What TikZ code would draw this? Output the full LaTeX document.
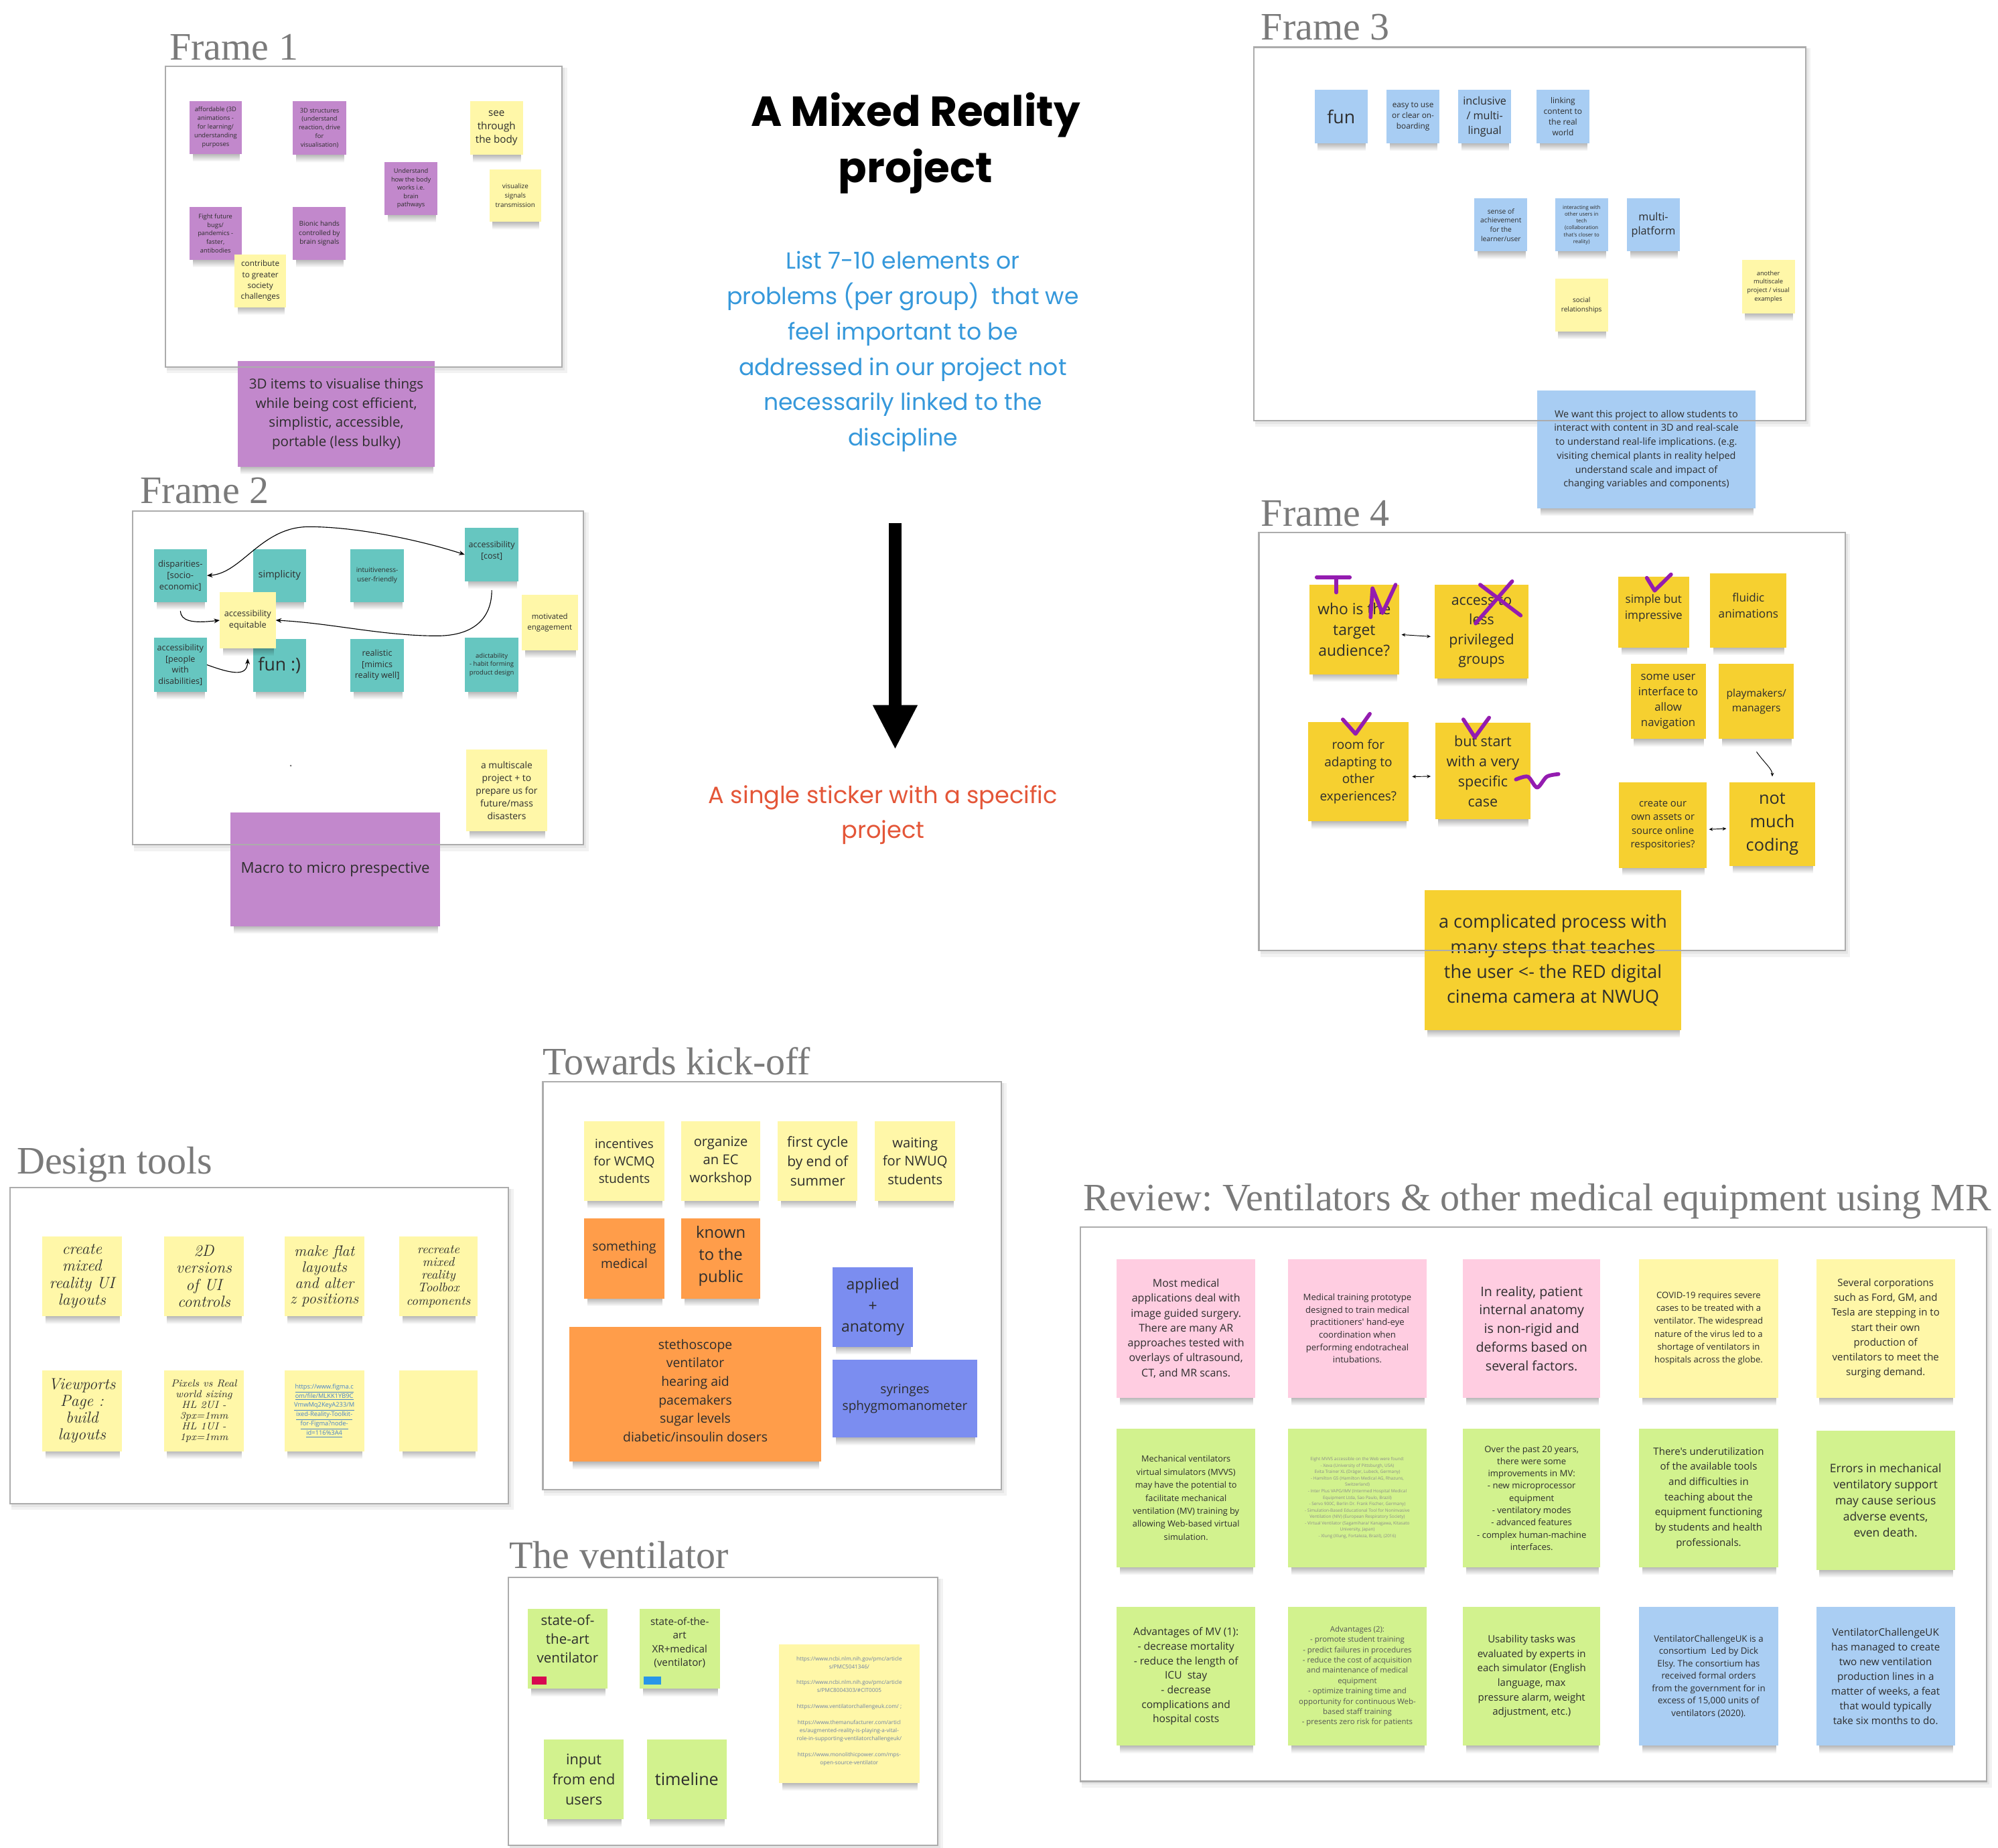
\documentclass[tikz,border=0pt]{standalone}
\usepackage{fontspec}
\newfontfamily\os{Open Sans}
\newfontfamily\pop{Poppins}
\newfontfamily\lab{Liberation Serif}
\usetikzlibrary{arrows.meta,fadings}
\definecolor{purp}{RGB}{194,136,204}
\definecolor{lyel}{RGB}{255,247,168}
\definecolor{tealc}{RGB}{102,198,192}
\definecolor{lblu}{RGB}{168,205,243}
\definecolor{rblu}{RGB}{170,206,243}
\definecolor{gold}{RGB}{246,208,48}
\definecolor{orng}{RGB}{255,157,74}
\definecolor{viol}{RGB}{123,141,240}
\definecolor{gren}{RGB}{210,242,142}
\definecolor{pinkc}{RGB}{255,205,225}
\definecolor{txt}{RGB}{45,45,45}
\definecolor{lblgray}{RGB}{122,122,122}
\definecolor{frm}{RGB}{172,172,172}
\definecolor{bluetxt}{RGB}{53,152,219}
\definecolor{redtxt}{RGB}{228,86,56}
\definecolor{penc}{RGB}{148,28,176}
\definecolor{linkb}{RGB}{70,130,200}
\definecolor{linkg}{RGB}{110,130,165}
\definecolor{tagr}{RGB}{215,10,80}
\definecolor{tagb}{RGB}{40,150,232}
\newcommand\fsz[2]{\fontsize{#1pt}{#2pt}\selectfont}
\newcommand\hw{\rmfamily\itshape}
\tikzset{
 stick/.style={anchor=north west, inner sep=0pt, outer sep=0pt},
 stext/.style={align=center, inner sep=0pt, text=txt},
 os/.style 2 args={font=\os\fsz{#1}{#2}},
 hand/.style 2 args={font=\hw\fsz{#1}{#2}},
 lbl/.style={anchor=base west, inner sep=0pt, text=lblgray, font=\lab\fsz{30.5}{36}},
 frameline/.style={draw=frm, line width=1.2pt},
 conn/.style={line width=0.6pt, black, >={Stealth[length=4.5pt,width=3.6pt]}},
 sconn/.style={line width=0.5pt, black, >={Stealth[length=3pt,width=2.6pt]}},
 pen/.style={draw=penc, line width=3pt, line cap=round, line join=round},
}
% [dy]{name}{x1}{y1}{x2}{y2}{fill}{text options}{text}
\newcommand\sticker[9][0]{%
  \fill[black,opacity=.32,path fading=south] (#3+2.5,#6-1) rectangle (#5-1.5,#6+6);
  \node[stick,fill=#7,minimum width={(#5-#3)*1pt},minimum height={(#6-#4)*1pt}] (#2) at (#3,#4) {};
  \node[stext,#8] (#2t) at ([yshift=#1pt]#2.center) {#9};}
\newcommand\frameback[4]{%
  \fill[black,opacity=.05] (#1+1,#2+1) rectangle (#3+4,#4+5);
  \fill[black,opacity=.05] (#1+1,#2+1) rectangle (#3+2,#4+2.5);
  \fill[white] (#1,#2) rectangle (#3,#4);}
\newcommand\frameline[4]{\draw[frameline] (#1,#2) rectangle (#3,#4);}
\begin{document}
\frenchspacing
\begin{tikzpicture}[x={(1pt,0pt)},y={(0pt,-1pt)}]
\useasboundingbox (0,0) rectangle (1568,1450);
\fill[white] (0,0) rectangle (1568,1450);
% ---------- frame backgrounds
\frameback{130}{52}{441}{288}
\frameback{104}{401}{458}{663}
\frameback{984}{37}{1417}{330}
\frameback{988}{418}{1448}{746}
\frameback{8}{932}{399}{1180}
\frameback{426}{849}{786}{1169}
\frameback{399}{1238}{736}{1448}
\frameback{848}{963}{1559}{1398}
% ---------- Frame 1
\sticker{f1a}{148.7}{79.2}{189.7}{120.9}{purp}{os={4.9}{6.8}}{affordable (3D\\animations -\\for learning/\\understanding\\purposes}
\sticker{f1b}{229.9}{79.6}{271.6}{121.5}{purp}{os={4.9}{6.8}}{3D structures\\(understand\\reaction, drive\\for\\visualisation)}
\sticker{f1c}{368.8}{79.6}{410.5}{121.5}{lyel}{os={8}{10.6}}{see\\through\\the body}
\sticker{f1d}{301.6}{127.2}{343.5}{168.6}{purp}{os={4.9}{6.6}}{Understand\\how the body\\works i.e.\\brain\\pathways}
\sticker{f1e}{384}{132.9}{424.8}{174.1}{lyel}{os={5.2}{7.3}}{visualize\\signals\\transmission}
\sticker{f1f}{148.7}{162.5}{189.5}{203.8}{purp}{os={4.9}{6.6}}{Fight future\\bugs/\\pandemics -\\faster,\\antibodies}
\sticker{f1g}{229.9}{162.5}{271.4}{203.8}{purp}{os={5.3}{7.3}}{Bionic hands\\controlled by\\brain signals}
\sticker{f1h}{183.9}{199.7}{224.7}{241.1}{lyel}{os={6.2}{8.6}}{contribute\\to greater\\society\\challenges}
\sticker{f1i}{186.4}{283.5}{341.4}{366.2}{purp}{os={10.8}{15}}{3D items to visualise things\\while being cost efficient,\\simplistic, accessible,\\portable (less bulky)}
% ---------- Frame 2
\sticker{f2a}{120.7}{430.8}{162.4}{472.5}{tealc}{os={6.8}{9}}{disparities-\\{[}socio-\\economic{]}}
\sticker{f2b}{198.5}{430.8}{240.2}{472.5}{tealc}{os={7.6}{9}}{simplicity}
\sticker{f2c}{274.8}{430.8}{317.2}{472.5}{tealc}{os={5.3}{7.3}}{intuitiveness-\\user-friendly}
\sticker[3]{f2d}{364.7}{414.4}{407.1}{456.1}{tealc}{os={6.6}{8.7}}{accessibility\\{[}cost{]}}
\sticker{f2g}{120.7}{500.6}{162.4}{542.8}{tealc}{os={6.6}{8.7}}{accessibility\\{[}people\\with\\disabilities{]}}
\sticker{f2h}{198.5}{501.3}{240.2}{542.8}{tealc}{os={14}{16}}{fun :)}
\sticker{f2i}{274.8}{501.3}{317.2}{542.8}{tealc}{os={6.6}{8.7}}{realistic\\{[}mimics\\reality well{]}}
\sticker{f2j}{364.7}{500.6}{407.1}{542.8}{tealc}{os={5}{6.6}}{adictability\\- habit forming\\product design}
\sticker{f2e}{172.4}{464.7}{216.4}{508.8}{lyel}{os={6.7}{8.9}}{accessibility\\equitable}
\sticker{f2f}{409.4}{466.6}{453.4}{510.4}{lyel}{os={6}{8.4}}{motivated\\engagement}
\sticker{f2k}{365.8}{588.4}{429.5}{652.4}{lyel}{os={7.3}{10}}{a multiscale\\project + to\\prepare us for\\future/mass\\disasters}
\sticker{f2l}{180.9}{637.6}{345.4}{726.7}{purp}{os={11.7}{15}}{Macro to micro prespective}
\fill[black!60] (228.2,600.9) circle (0.7);
% ---------- Frame 3
\sticker{f3a}{1031.6}{70.6}{1073.3}{112.5}{lblu}{os={14}{16}}{fun}
\sticker{f3b}{1088.2}{70.6}{1129.6}{112.5}{lblu}{os={6.2}{8.5}}{easy to use\\or clear on-\\boarding}
\sticker{f3c}{1144.3}{70.6}{1186}{112.5}{lblu}{os={8.5}{11.6}}{inclusive\\/ multi-\\lingual}
\sticker{f3d}{1205.7}{70.6}{1247.4}{112.5}{lblu}{os={6.3}{8.5}}{linking\\content to\\the real\\world}
\sticker{f3e}{1157}{155.7}{1198.7}{197.3}{lblu}{os={5.4}{7.2}}{sense of\\achievement\\for the\\learner/user}
\sticker{f3f}{1220.3}{155.7}{1262}{197.3}{lblu}{os={4.1}{5.4}}{interacting with\\other users in\\tech\\(collaboration\\that's closer to\\reality)}
\sticker{f3g}{1276.7}{155.7}{1318.4}{197.3}{lblu}{os={8.5}{11}}{multi-\\platform}
\sticker{f3h}{1220.3}{218.8}{1262}{260.2}{lyel}{os={5.3}{7.5}}{social\\relationships}
\sticker{f3i}{1367}{203.8}{1408.5}{246}{lyel}{os={4.9}{6.7}}{another\\multiscale\\project / visual\\examples}
\sticker{f3j}{1206.5}{306.7}{1377.5}{399}{lblu}{os={7.6}{10.9}}{We want this project to allow students to\\interact with content in 3D and real-scale\\to understand real-life implications. (e.g.\\visiting chemical plants in reality helped\\understand scale and impact of\\changing variables and components)}
% ---------- Frame 4
\sticker{f4a}{1027.6}{458.7}{1097.9}{529.1}{gold}{os={12}{16.3}}{who is the\\target\\audience?}
\sticker{f4b}{1125.7}{458.9}{1199.7}{532.6}{gold}{os={11.2}{15.4}}{access to\\less\\privileged\\groups}
\sticker[3]{f4c}{1269.8}{452.7}{1325.6}{508.2}{gold}{os={9}{12.5}}{simple but\\impressive}
\sticker[4]{f4d}{1342.2}{450}{1402}{508.2}{gold}{os={9}{12.5}}{fluidic\\animations}
\sticker{f4e}{1279.7}{521}{1338.6}{580}{gold}{os={8.8}{12.2}}{some user\\interface to\\allow\\navigation}
\sticker{f4f}{1348.9}{521}{1407.8}{580}{gold}{os={8.2}{11.4}}{playmakers/\\managers}
\sticker{f4g}{1026.7}{566.5}{1105.2}{644.5}{gold}{os={10}{13.5}}{room for\\adapting to\\other\\experiences?}
\sticker{f4h}{1126.3}{567.3}{1201.2}{643.1}{gold}{os={11.3}{15.7}}{but start\\with a very\\specific\\case}
\sticker{f4i}{1270.7}{613.9}{1339.2}{681}{gold}{os={7.8}{10.8}}{create our\\own assets or\\source online\\respositories?}
\sticker{f4j}{1357.3}{613.9}{1424.4}{679.4}{gold}{os={13.3}{18.2}}{not\\much\\coding}
\sticker{f4k}{1117.9}{698.7}{1319.6}{808.4}{gold}{os={14.2}{19.5}}{a complicated process with\\many steps that teaches\\the user <- the RED digital\\cinema camera at NWUQ}
% ---------- Design tools
\sticker{d1}{33}{970.2}{95.6}{1033}{lyel}{hand={12.6}{13.2}}{create\\mixed\\reality UI\\layouts}
\sticker{d2}{128.6}{970.2}{191.5}{1033}{lyel}{hand={12.6}{13.2}}{2D\\versions\\of UI\\controls}
\sticker{d3}{223.2}{970.2}{285.8}{1033}{lyel}{hand={12}{12.5}}{make flat\\layouts\\and alter\\z positions}
\sticker{d4}{313.4}{970.2}{374.7}{1033}{lyel}{hand={10}{10.1}}{recreate\\mixed\\reality\\Toolbox\\components}
\sticker{d5}{33}{1075.5}{95.6}{1138.8}{lyel}{hand={12.6}{13.2}}{Viewports\\Page :\\build\\layouts}
\sticker{d6}{128.6}{1075.5}{191.5}{1138.8}{lyel}{hand={8}{8.4}}{Pixels vs Real\\world sizing\\HL 2UI -\\3px=1mm\\HL 1UI -\\1px=1mm}
\sticker{d7}{223.2}{1075.5}{285.8}{1138.8}{lyel}{os={4.9}{7.3},text=linkb}{\underline{https://www.figma.c}\\\underline{om/file/MLKK1YB9C}\\\underline{VmwMq2KeyA233/M}\\\underline{ixed-Reality-Toolkit-}\\\underline{for-Figma?node-}\\\underline{id=116\%3A4}}
\sticker{d8}{313.4}{1075.5}{374.7}{1138.8}{lyel}{os={8}{10}}{}
% ---------- Towards kick-off
\sticker{k1}{458.4}{880.1}{521.4}{942.4}{lyel}{os={9.9}{13.8}}{incentives\\for WCMQ\\students}
\sticker{k2}{534.5}{880.1}{596.8}{942.4}{lyel}{os={10.6}{14.3}}{organize\\an EC\\workshop}
\sticker{k3}{610.4}{880.1}{673}{942.4}{lyel}{os={11}{15.2}}{first cycle\\by end of\\summer}
\sticker{k4}{686.5}{880.1}{749.8}{942.4}{lyel}{os={10.6}{14.3}}{waiting\\for NWUQ\\students}
\sticker[3]{k5}{458.4}{956.3}{521.4}{1019}{orng}{os={10.1}{13.5}}{something\\medical}
\sticker[2]{k6}{534.5}{956.3}{596.8}{1019}{orng}{os={12.5}{17.3}}{known\\to the\\public}
\sticker{k7}{653.4}{994.3}{716.5}{1057.1}{viol}{os={12}{16.6}}{applied\\+\\anatomy}
\sticker[3]{k8}{446.9}{1041.4}{644.4}{1147.1}{orng}{os={10.2}{14.5}}{stethoscope\\ventilator\\hearing aid\\pacemakers\\sugar levels\\diabetic/insoulin dosers}
\sticker{k9}{653.4}{1067}{766.9}{1128.2}{viol}{os={10}{13.4}}{syringes\\sphygmomanometer}
% ---------- The ventilator
\sticker[8]{v1}{414.1}{1262.7}{476.8}{1325.3}{gren}{os={10.8}{14.8}}{state-of-\\the-art\\ventilator}
\sticker[5]{v2}{502}{1262.7}{564.8}{1325.3}{gren}{os={8}{10.8}}{state-of-the-\\art\\XR+medical\\(ventilator)}
\fill[tagr] (417.4,1315.8) rectangle (429.1,1321.9);
\fill[tagb] (504.9,1315.8) rectangle (518.7,1321.9);
\sticker{v3}{426.9}{1365}{489.4}{1427.7}{gren}{os={11.4}{15.7}}{input\\from end\\users}
\sticker{v4}{507.6}{1365}{570.3}{1427.7}{gren}{os={13.2}{15}}{timeline}
\sticker[2]{v5}{611.3}{1290.5}{721.6}{1399.3}{lyel}{os={4.3}{6.3},text=linkg}{https://www.ncbi.nlm.nih.gov/pmc/article\\s/PMC5041346/\\~\\https://www.ncbi.nlm.nih.gov/pmc/article\\s/PMC8004303/\#CIT0005\\~\\https://www.ventilatorchallengeuk.com/ ;\\~\\https://www.themanufacturer.com/articl\\es/augmented-reality-is-playing-a-vital-\\role-in-supporting-ventilatorchallengeuk/\\~\\https://www.monolithicpower.com/mps-\\open-source-ventilator}
% ---------- Review
\sticker{r11}{876.5}{988}{985}{1097}{pinkc}{os={8.4}{11.7}}{Most medical\\applications deal with\\image guided surgery.\\There are many AR\\approaches tested with\\overlays of ultrasound,\\CT, and MR scans.}
\sticker{r12}{1011}{988}{1119.4}{1097}{pinkc}{os={6.9}{9.8}}{Medical training prototype\\designed to train medical\\practitioners' hand-eye\\coordination when\\performing endotracheal\\intubations.}
\sticker{r13}{1148}{988}{1256}{1097}{pinkc}{os={10.3}{14.6}}{In reality, patient\\internal anatomy\\is non-rigid and\\deforms based on\\several factors.}
\sticker{r14}{1286.4}{988}{1395.4}{1097}{lyel}{os={6.9}{10.1}}{COVID-19 requires severe\\cases to be treated with a\\ventilator. The widespread\\nature of the virus led to a\\shortage of ventilators in\\hospitals across the globe.}
\sticker{r15}{1425.3}{988}{1534.3}{1097}{lyel}{os={7.9}{11.7}}{Several corporations\\such as Ford, GM, and\\Tesla are stepping in to\\start their own\\production of\\ventilators to meet the\\surging demand.}
\sticker{r21}{876.5}{1121}{985}{1230}{gren}{os={6.7}{10.2}}{Mechanical ventilators\\virtual simulators (MVVS)\\may have the potential to\\facilitate mechanical\\ventilation (MV) training by\\allowing Web-based virtual\\simulation.}
\sticker{r22}{1011}{1121}{1119.4}{1230}{gren}{os={3.4}{5},text=txt!55}{Eight MVVS accessible on the Web were found:\\- Xeva (University of Pittsburgh, USA)\\Evita Trainer XL (Dräger, Lubeck, Germany)\\- Hamilton G5 (Hamilton Medical AG, Rhazuns,\\Switzerland)\\- Inter Plus VAPG/IMV (Intermed Hospital Medical\\Equipment Ltda, Sao Paulo, Brazil)\\- Servo 900C, Berlin Dr. Frank Fischer, Germany)\\- Simulation-Based Educational Tool for Noninvasive\\Ventilation (NIV) (European Respiratory Society)\\- Virtual Ventilator (Sagamihara/ Kanagawa, Kitasato\\University, Japan)\\- Xlung (Xlung, Fortaleza, Brazil), (2016)}
\sticker{r23}{1148}{1121}{1256}{1230}{gren}{os={6.9}{9.6}}{Over the past 20 years,\\there were some\\improvements in MV:\\- new microprocessor\\equipment\\- ventilatory modes\\- advanced features\\- complex human-machine\\interfaces.}
\sticker{r24}{1286.4}{1121}{1395.4}{1230}{gren}{os={7.9}{11.9}}{There's underutilization\\of the available tools\\and difficulties in\\teaching about the\\equipment functioning\\by students and health\\professionals.}
\sticker{r25}{1425.3}{1123}{1534.3}{1232}{gren}{os={9.2}{12.6}}{Errors in mechanical\\ventilatory support\\may cause serious\\adverse events,\\even death.}
\sticker{r31}{876.5}{1261}{985}{1370}{gren}{os={8.2}{11.4}}{Advantages of MV (1):\\- decrease mortality\\- reduce the length of\\ICU\ \ stay\\- decrease\\complications and\\hospital costs}
\sticker{r32}{1011}{1261}{1119.4}{1370}{gren}{os={6}{8.1},text=txt!80}{Advantages (2):\\- promote student training\\- predict failures in procedures\\- reduce the cost of acquisition\\and maintenance of medical\\equipment\\- optimize training time and\\opportunity for continuous Web-\\based staff training\\- presents zero risk for patients}
\sticker{r33}{1148}{1261}{1256}{1370}{gren}{os={7.9}{11.4}}{Usability tasks was\\evaluated by experts in\\each simulator (English\\language, max\\pressure alarm, weight\\adjustment, etc.)}
\sticker{r34}{1286.4}{1261}{1395.4}{1370}{rblu}{os={7}{9.7}}{VentilatorChallengeUK is a\\consortium\ \ Led by Dick\\Elsy. The consortium has\\received formal orders\\from the government for in\\excess of 15,000 units of\\ventilators (2020).}
\sticker{r35}{1425.3}{1261}{1534.3}{1370}{rblu}{os={8}{11.6}}{VentilatorChallengeUK\\has managed to create\\two new ventilation\\production lines in a\\matter of weeks, a feat\\that would typically\\take six months to do.}
% ---------- frame borders (on top)
\frameline{130}{52}{441}{288}
\frameline{104}{401}{458}{663}
\frameline{984}{37}{1417}{330}
\frameline{988}{418}{1448}{746}
\frameline{8}{932}{399}{1180}
\frameline{426}{849}{786}{1169}
\frameline{399}{1238}{736}{1448}
\frameline{848}{963}{1559}{1398}
% ---------- Frame 2 connectors
\draw[conn,<->] (f2a.east) .. controls (190,450) and (205,413) .. (243,413.4) .. controls (280,413.4) and (330,424) .. (f2d.west);
\draw[conn,->] ([yshift=-7pt]f2a.south) .. controls (142,487) and (150,489.5) .. (f2e.west);
\draw[conn,->] (f2g.east) .. controls (185,530) and (194,530) .. ([yshift=-8pt]f2e.south);
\draw[conn,->] ([yshift=-7pt]f2d.south) .. controls (386,485) and (372,499) .. (343,499) .. controls (300,499) and (260,489) .. (f2e.east);
% ---------- Frame 4 connectors
\draw[sconn,<->,shorten <=2pt,shorten >=3pt] ([yshift=-4pt]f4a.east) -- ([yshift=-4pt]f4b.west);
\draw[sconn,<->,shorten <=3pt,shorten >=3.5pt] ([yshift=-4pt]f4g.east) -- ([yshift=-4pt]f4h.west);
\draw[sconn,<->,shorten <=2pt,shorten >=2.5pt] ([yshift=-3.5pt]f4i.east) -- ([yshift=-3.5pt]f4j.west);
\coordinate (c4) at (1378.5,590);
\draw[sconn,->,shorten >=4.5pt] (c4) to[out=-55,in=90] (f4j.north);
% ---------- purple pen marks
\draw[pen] (1033.3,453) -- (1059.3,453);
\draw[pen] (1048.7,453) -- (1048.7,464.9);
\draw[pen] (1075.6,484.4) -- (1077.1,461.7) -- (1084.9,481.1) -- (1095.2,458.9);
\draw[pen] (1161.6,458.9) -- (1193.4,483);
\draw[pen] (1186.7,456.2) -- (1158,489.2);
\draw[pen] (1053.8,564.6) -- (1063.8,575.9) -- (1075,560.2);
\draw[pen] (1148.4,564.6) -- (1157.4,578.6) -- (1168.6,563.2);
\draw[pen] (1292.4,453.5) -- (1298.5,463.5) -- (1311.4,450.8);
\draw[pen] plot[smooth] coordinates {(1189.7,611.7) (1199,609.5) (1206.3,618) (1213.9,609.5) (1223,607.5)};
% ---------- centre texts
\node[anchor=base, inner sep=0pt, align=center, font=\pop\bfseries\fsz{33}{44}] (title) at (718.5,143.2) {A Mixed Reality\\project};
\node[anchor=base, inner sep=0pt, align=center, text=bluetxt, font=\pop\fsz{18.2}{27.8}] (task) at (708.5,350) {List 7-10 elements or\\problems (per group)\ \ that we\\feel important to be\\addressed in our project not\\necessarily linked to the\\discipline};
\node[anchor=base, inner sep=0pt, align=center, text=redtxt, font=\pop\fsz{18.5}{27.4}] (goal) at (693,657.8) {A single sticker with a specific\\project};
\coordinate (atop) at (702.5,410.6);
\coordinate (ahead) at (702.5,555);
\coordinate (ahl) at (684.8,553.3);
\coordinate (ahr) at (720.2,553.3);
\coordinate (atip) at (702.5,587.4);
\draw[line width=10pt] (atop) -- (ahead);
\fill (ahl) -- (ahr) -- (atip) -- cycle;
% ---------- frame labels
\node[lbl] (l1) at (133,47) {Frame 1};
\node[lbl] (l2) at (110,395) {Frame 2};
\node[lbl] (l3) at (989.5,31.5) {Frame 3};
\node[lbl] (l4) at (989.5,413) {Frame 4};
\node[lbl] (l5) at (13,921) {Design tools};
\node[lbl] (l6) at (426,843.5) {Towards kick-off};
\node[lbl] (l7) at (399.5,1231) {The ventilator};
\node[lbl] (l8) at (850,950) {Review: Ventilators \& other medical equipment using MR};
\end{tikzpicture}
\end{document}
